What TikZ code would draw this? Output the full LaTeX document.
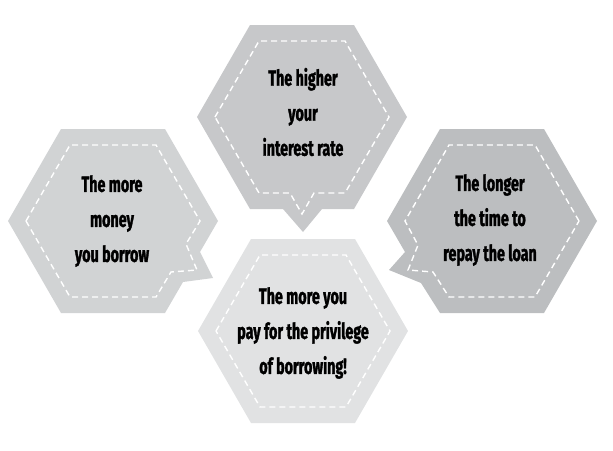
\documentclass[tikz,border=0pt]{standalone}
\usepackage{fontspec}
\newfontfamily\bubblefont{Fira Sans}[FakeStretch=0.65, BoldFeatures={FakeBold=1.4}]
\usetikzlibrary{positioning}
\definecolor{tonetop}{HTML}{C7C8CA}
\definecolor{toneleft}{HTML}{D1D3D4}
\definecolor{toneright}{HTML}{BCBEC0}
\definecolor{tonebottom}{HTML}{E1E2E3}

\begin{document}
\begin{tikzpicture}[x=1pt, y=-1pt,
    seam/.style={draw=white, line width=1.4pt, dash pattern=on 6pt off 4pt},
    saying/.style={align=center, text=black,
      font=\bubblefont\bfseries\fontsize{22}{35}\selectfont}]
  \useasboundingbox (0,0) rectangle (613,450);
  % top bubble, tail pointing down
  \fill[tonetop] (197,117) -- (250,25) -- (354,25) -- (407,117) -- (354,209)
    -- (322,209) -- (303,232) -- (283,209) -- (250,209) -- cycle;
  \draw[seam] (215,117) -- (259,41) -- (345,41) -- (389,117) -- (345,193)
    -- (314,193) -- (302,214) -- (290,193) -- (259,193) -- cycle;
  % left bubble, tail pointing right
  \fill[toneleft] (8,221) -- (61,129) -- (165,129) -- (218,221) -- (200,252)
    -- (213,278) -- (183,282) -- (165,313) -- (61,313) -- cycle;
  \draw[seam] (26,221) -- (70,145) -- (156,145) -- (200,221) -- (186,244)
    -- (197,270) -- (171,272) -- (156,297) -- (70,297) -- cycle;
  % right bubble, tail pointing left
  \fill[toneright] (597,221) -- (544,129) -- (440,129) -- (387,221) -- (405,252)
    -- (389,270) -- (421,283) -- (440,313) -- (544,313) -- cycle;
  \draw[seam] (579,221) -- (535,145) -- (449,145) -- (405,221) -- (418,245)
    -- (408,270) -- (433,272) -- (449,297) -- (535,297) -- cycle;
  % bottom bubble
  \fill[tonebottom] (198,331) -- (251,239) -- (355,239) -- (408,331) -- (355,423)
    -- (251,423) -- cycle;
  \draw[seam] (216,331) -- (260,255) -- (346,255) -- (390,331) -- (346,407)
    -- (260,407) -- cycle;

  \node[saying] (rate) at (303,112) {The higher\\your\\interest rate};
  \node[saying] (money) at (112,221) {The more\\money\\you borrow};
  \node[saying] (time) at (490,220) {The longer\\the time to\\repay the loan};
  \node[saying] (cost) at (303,333) {The more you\\pay for the privilege\\of borrowing!};
\end{tikzpicture}
\end{document}
